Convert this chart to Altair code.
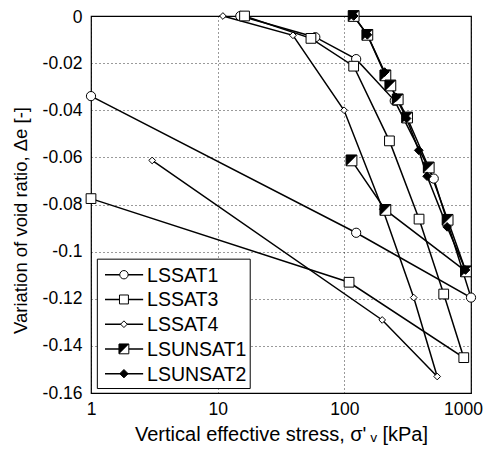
import altair as alt
import pandas as pd

# ---- data ----
series_names = ["LSSAT1", "LSSAT3", "LSSAT4", "LSUNSAT1", "LSUNSAT2"]

lssat1_stress = [15.1, 59, 124, 250, 508, 1000, 124, 1]
lssat1_de = [0, -0.009, -0.0183, -0.036, -0.069, -0.1195, -0.092, -0.034]

lssat3_stress = [16.3, 54.5, 118.5, 227, 389, 609, 877, 109, 1]
lssat3_de = [0, -0.0095, -0.0213, -0.053, -0.0862, -0.118, -0.145, -0.113, -0.0775]

lssat4_stress = [11, 39.3, 99.5, 201, 353, 541, 199, 3.04]
lssat4_de = [0, -0.0082, -0.040, -0.082, -0.1195, -0.153, -0.129, -0.0613]

lsunsat1_stress = [118.5, 152, 211, 231, 264, 313, 464, 654, 912, 211, 114]
lsunsat1_de = [0, -0.008, -0.0252, -0.0295, -0.0354, -0.0431, -0.0643, -0.0865, -0.1084, -0.0823, -0.0613]

lsunsat2_stress = [118.5, 152, 208, 255, 310, 387, 450, 648, 905]
lsunsat2_de = [0, -0.008, -0.0238, -0.0345, -0.0435, -0.057, -0.068, -0.0895, -0.1078]

x_ticks = [1, 10, 100, 1000]
y_ticks = [0, -0.02, -0.04, -0.06, -0.08, -0.1, -0.12, -0.14, -0.16]

FONT = "Liberation Sans"

rows = []
for name, xs, ys in [
    ("LSSAT1", lssat1_stress, lssat1_de),
    ("LSSAT3", lssat3_stress, lssat3_de),
    ("LSSAT4", lssat4_stress, lssat4_de),
    ("LSUNSAT1", lsunsat1_stress, lsunsat1_de),
    ("LSUNSAT2", lsunsat2_stress, lsunsat2_de),
]:
    for i, (a, b) in enumerate(zip(xs, ys)):
        rows.append({"series": name, "idx": i, "stress": a, "de": b})
df = pd.DataFrame(rows)

X = alt.X(
    "stress:Q",
    scale=alt.Scale(type="log", domain=[1, 1000]),
    axis=alt.Axis(
        values=x_ticks, format="d", title="Vertical effective stress, σ'\u2009ᵥ [kPa]",
        grid=True, gridColor="#000", gridDash=[1, 3], gridWidth=0.8,
        domain=False, tickSize=0, labelFlush=False, labelPadding=7,
        labelOffset={"condition": {"test": "datum.value == 1000", "value": -8}, "value": 0},
        labelFont=FONT, labelFontSize=17.5, labelColor="#000",
        titleFont=FONT, titleFontSize=20, titleFontWeight="normal", titleColor="#000",
        titleY=47, titleBaseline="alphabetic",
    ),
)
Y = alt.Y(
    "de:Q",
    scale=alt.Scale(domain=[-0.16, 0], nice=False, zero=False),
    axis=alt.Axis(
        values=y_ticks, labelExpr="replace(format(datum.value, '.2~f'), '\u2212', '-')",
        title="Variation of void ratio, Δe [-]",
        grid=True, gridColor="#000", gridDash=[1, 3], gridWidth=0.8,
        domain=False, tickSize=0, labelPadding=9,
        labelOffset={"condition": {"test": "datum.value == 0", "value": 1.5}, "value": 0},
        labelFont=FONT, labelFontSize=17.5, labelColor="#000",
        titleFont=FONT, titleFontSize=18.5, titleFontWeight="normal", titleColor="#000",
        titleX=-71, titleY=204, titleAngle=270, titleBaseline="middle", titleAlign="center",
    ),
)

base = alt.Chart(df)

lines = base.mark_line(color="black").encode(
    x=X, y=Y, order="idx:Q", detail="series:N",
    strokeWidth=alt.StrokeWidth(
        "series:N",
        scale=alt.Scale(domain=series_names, range=[1.5, 1.5, 1.5, 2.4, 2.4]),
        legend=None,
    ),
)

TRI = "M -1 -1 L 1 -1 L -1 1 Z"


def pts(chart, name, shape, size, fill, sw=1):
    return chart.transform_filter(alt.datum.series == name).mark_point(
        shape=shape, size=size, filled=True, fill=fill, stroke="black",
        strokeWidth=sw, opacity=1,
    ).encode(x=X, y=Y)


markers = [
    pts(base, "LSSAT1", "circle", 85, "white"),
    pts(base, "LSSAT3", "square", 95, "white"),
    pts(base, "LSSAT4", "diamond", 45, "white"),
    pts(base, "LSUNSAT1", "square", 115, "white"),
    pts(base, "LSUNSAT1", TRI, 115, "black", 0.5),
    pts(base, "LSUNSAT2", "diamond", 75, "black"),
]

# ---- legend (drawn in data coordinates) ----
leg_rows_de = [-0.1098, -0.1203, -0.1308, -0.1413, -0.1518]
leg = pd.DataFrame({"series": series_names, "de": leg_rows_de})
leg["stress"] = 1.29
leg["stress2"] = 2.58
leg_mark = leg.copy()
leg_mark["stress"] = 1.82
leg_text = leg.copy()
leg_text["stress"] = 2.77

box = alt.Chart(pd.DataFrame({"stress": [1.122], "stress2": [18.07], "de": [-0.1032], "de2": [-0.1581]})).mark_rect(
    fill="white", stroke="black", strokeWidth=1
).encode(x=X, x2="stress2:Q", y=Y, y2="de2:Q")

leg_lines = alt.Chart(leg).mark_rule(color="black", strokeWidth=1.6).encode(x=X, x2="stress2:Q", y=Y)
lm = alt.Chart(leg_mark)
leg_markers = [
    pts(lm, "LSSAT1", "circle", 70, "white"),
    pts(lm, "LSSAT3", "square", 80, "white"),
    pts(lm, "LSSAT4", "diamond", 45, "white"),
    pts(lm, "LSUNSAT1", "square", 95, "white"),
    pts(lm, "LSUNSAT1", TRI, 95, "black", 0.5),
    pts(lm, "LSUNSAT2", "diamond", 70, "black"),
]
leg_labels = alt.Chart(leg_text).mark_text(
    align="left", baseline="middle", font=FONT, fontSize=19.5, color="black", dy=1
).encode(x=X, y=Y, text="series:N")

chart = alt.layer(
    lines, *markers, box, leg_lines, *leg_markers, leg_labels
).properties(
    width=380, height=377,
    autosize=alt.AutoSizeParams(type="none"),
    padding={"left": 83, "top": 8, "right": 12, "bottom": 53},
    background="white",
).configure_view(stroke="black", strokeWidth=1.2)

chart.save("out.html", embed_options={"renderer": "svg", "actions": False})
